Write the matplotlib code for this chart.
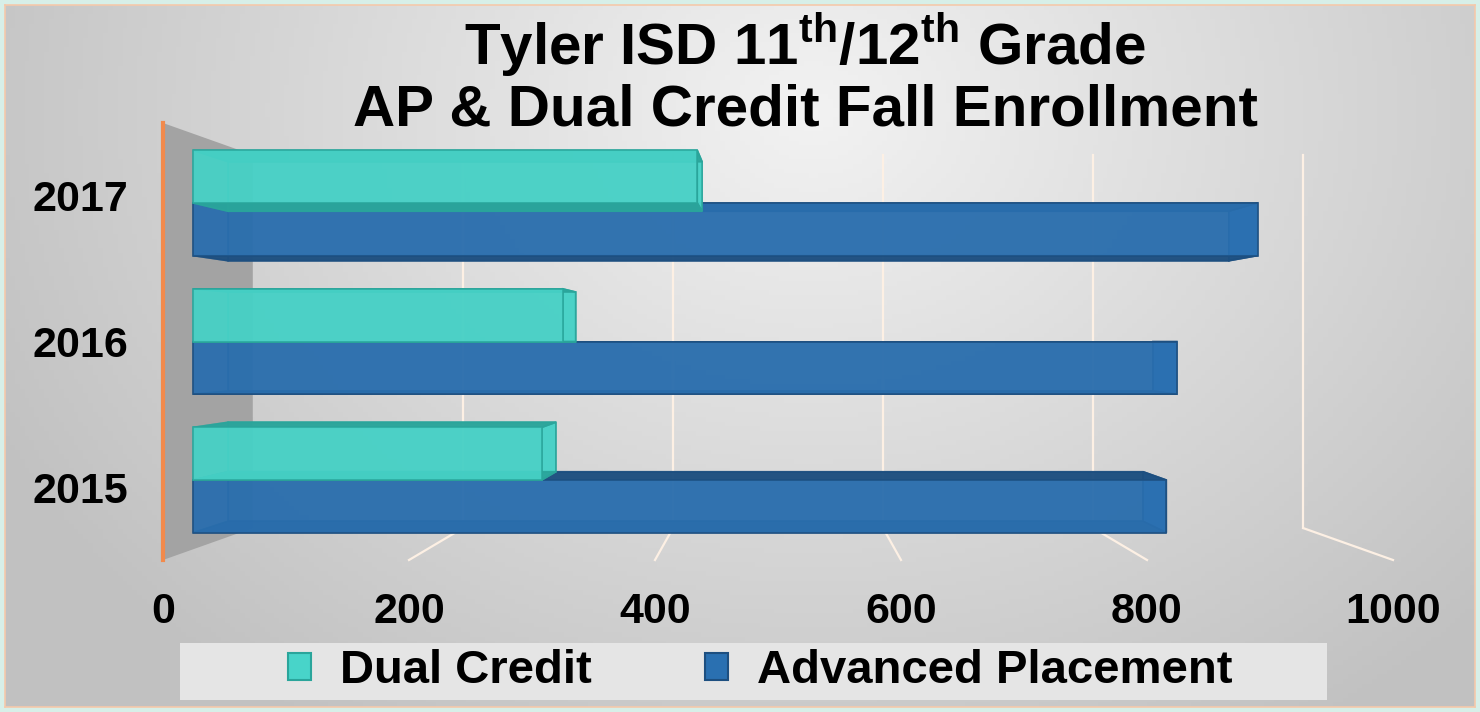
import numpy as np
import matplotlib
matplotlib.use("Agg")
import matplotlib.pyplot as plt
from matplotlib.patches import Polygon, Rectangle, Patch

plt.rcParams["font.family"] = ["Liberation Sans", "DejaVu Sans"]
plt.rcParams["font.weight"] = "bold"
plt.rcParams["mathtext.fontset"] = "custom"
plt.rcParams["mathtext.rm"] = "Liberation Sans:bold"
plt.rcParams["mathtext.bf"] = "Liberation Sans:bold"

# ---- data ---------------------------------------------------------------
years = ["2015", "2016", "2017"]
dual_credit = [298, 316, 431]
advanced_placement = [832, 841, 910]
x_ticks = [0, 200, 400, 600, 800, 1000]
series_names = ["Dual Credit", "Advanced Placement"]

# ---- perspective set-up (front plane = axis scale) -----------------------
VP_X, VP_Y = 500.0, 1.0          # vanishing point in data units
K_BAR_F, K_BAR_B, K_WALL = 0.951, 0.894, 0.854
BAR_H = 0.38

TEAL, TEAL_DK = "#48d4c9", "#2aa59b"
BLUE, BLUE_DK = "#2a70b1", "#1d4f80"


def proj(v, y, k):
    v = np.asarray(v, float)
    y = np.asarray(y, float)
    return VP_X + k * (v - VP_X), VP_Y + k * (y - VP_Y)


def quad(pts):
    return np.array([proj(v, y, k) for v, y, k in pts])


def draw_box(ax, x0, x1, y0, y1, face, dark):
    kf, kb = K_BAR_F, K_BAR_B
    faces = [
        ([(x0, y0, kb), (x1, y0, kb), (x1, y1, kb), (x0, y1, kb)], dark, 0.6),   # back
        ([(x0, y0, kf), (x0, y0, kb), (x0, y1, kb), (x0, y1, kf)], dark, 0.5),   # left
        ([(x1, y0, kf), (x1, y0, kb), (x1, y1, kb), (x1, y1, kf)], face, 0.92),  # right
        ([(x0, y0, kf), (x1, y0, kf), (x1, y0, kb), (x0, y0, kb)], dark, 0.92),  # bottom
        ([(x0, y1, kf), (x1, y1, kf), (x1, y1, kb), (x0, y1, kb)], dark, 0.92),  # top
        ([(x0, y0, kf), (x1, y0, kf), (x1, y1, kf), (x0, y1, kf)], face, 0.88),  # front
    ]
    for pts, col, a in faces:
        ax.add_patch(Polygon(quad(pts), closed=True, facecolor=col, alpha=a,
                             edgecolor=dark, lw=1.2, clip_on=False, zorder=3))


fig = plt.figure(figsize=(14.8, 7.12), dpi=100)
fig.patch.set_facecolor("#d7efe8")

# background gradient
bg = fig.add_axes([5 / 1480, 5 / 712, 1 - 10 / 1480, 1 - 10 / 712])
gx, gy = np.meshgrid(np.linspace(0, 1, 300), np.linspace(0, 1, 150))
d = np.sqrt(((gx - 0.55) / 0.65) ** 2 + ((gy - 0.15) / 1.1) ** 2)
g = np.clip(0.95 - 0.2 * d, 0.76, 0.95)
bg.imshow(np.dstack([g, g, g]), aspect="auto", extent=(0, 1, 1, 0))
bg.set_xticks([])
bg.set_yticks([])
for s in bg.spines.values():
    s.set_color("#f5c9ab")
    s.set_linewidth(1.2)

ax = fig.add_axes([163 / 1480, 152 / 712, 1230 / 1480, 437 / 712])
ax.patch.set_alpha(0)
ax.set_xlim(0, 1000)
ax.set_ylim(-0.5, 2.5)

# left wall and its front edge
wall = [(0, -0.5, 1), (0, 2.5, 1), (0, 2.5, K_WALL), (0, -0.5, K_WALL)]
ax.add_patch(Polygon(quad(wall), closed=True, facecolor="#a3a3a3",
                     edgecolor="none", zorder=1, clip_on=False))
ax.plot(*proj([0, 0], [-0.5, 2.5], 1), color="#f28a4c", lw=3, zorder=2,
        clip_on=False)

# back-wall gridlines and floor lines
for v in x_ticks[1:]:
    bx, by = proj([v, v], [-0.5, 2.5], K_WALL)
    ax.plot(bx, by, color="#fdf0e4", lw=1.6, zorder=1, clip_on=False)
    fx, fy = proj(v, -0.5, 1)
    ax.plot([bx[0], fx], [by[0], fy], color="#fdf0e4", lw=1.6, zorder=1,
            clip_on=False)

# bars
for i in range(len(years)):
    draw_box(ax, 0, advanced_placement[i], i - BAR_H, i, BLUE, BLUE_DK)
    draw_box(ax, 0, dual_credit[i], i, i + BAR_H, TEAL, TEAL_DK)

ax.set_xticks(x_ticks)
ax.set_xticklabels([str(t) for t in x_ticks], fontsize=31, fontweight="bold")
ax.set_yticks(range(len(years)))
ax.set_yticklabels(years, fontsize=31, fontweight="bold")
ax.tick_params(axis="x", length=0, pad=23)
ax.tick_params(axis="y", length=0, pad=25)
for s in ax.spines.values():
    s.set_visible(False)

# title
fig.text(805 / 1480, 1 - 46 / 712, r"Tyler ISD 11$^{\mathbf{th}}$/12$^{\mathbf{th}}$ Grade",
         ha="center", va="center", fontsize=42, fontweight="bold")
fig.text(805 / 1480, 1 - 110 / 712, "AP & Dual Credit Fall Enrollment",
         ha="center", va="center", fontsize=42, fontweight="bold")

# legend
fig.patches.append(Rectangle((180 / 1480, 12 / 712), 1147 / 1480, 57 / 712,
                             transform=fig.transFigure, facecolor="#e5e5e5",
                             edgecolor="none", zorder=0))
handles = [Patch(facecolor=TEAL, edgecolor=TEAL_DK, lw=1.5),
           Patch(facecolor=BLUE, edgecolor=BLUE_DK, lw=1.5)]
fig.legend(handles, series_names, loc="center", ncol=2,
           bbox_to_anchor=(760 / 1480, 1 - 671 / 712), frameon=False,
           prop={"size": 34, "weight": "bold"}, handlelength=0.5,
           handleheight=0.5, handletextpad=0.6, columnspacing=2.4)

fig.savefig("out.png", dpi=100, facecolor=fig.get_facecolor())
